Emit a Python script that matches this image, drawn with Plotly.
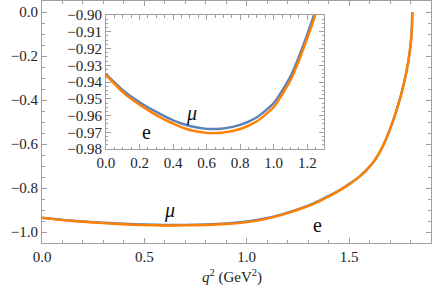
import plotly.graph_objects as go

# data
q2 = [0.0, 0.1, 0.2, 0.3, 0.4, 0.5, 0.6, 0.7, 0.8, 0.9, 1.0, 1.1, 1.2, 1.3, 1.35,
      1.4, 1.45, 1.5, 1.55, 1.58, 1.6, 1.62, 1.64, 1.66, 1.68, 1.70, 1.72, 1.74,
      1.75, 1.76, 1.77, 1.78, 1.79, 1.795, 1.80, 1.803, 1.805, 1.807, 1.8085]
ratio_mu = [-0.9353, -0.9448, -0.9520, -0.9578, -0.9628, -0.9662, -0.9679, -0.9677,
            -0.9656, -0.9610, -0.9525, -0.9365, -0.9115, -0.8805, -0.8600,
            -0.8360, -0.8110, -0.7820, -0.7480, -0.7220, -0.7020, -0.6800, -0.6520,
            -0.6180, -0.5780, -0.5320, -0.4800, -0.4210,
            -0.3890, -0.3540, -0.3150, -0.2710, -0.2200, -0.1890, -0.1520, -0.1240,
            -0.1000, -0.0620, 0.0000]
ratio_e = [-0.9357, -0.9460, -0.9536, -0.9597, -0.9648, -0.9686, -0.9703, -0.9701,
           -0.9680, -0.9634, -0.9549, -0.9389, -0.9139, -0.8829, -0.8622,
           -0.8382, -0.8130, -0.7838, -0.7496, -0.7235, -0.7034, -0.6812, -0.6530,
           -0.6188, -0.5786, -0.5325, -0.4804, -0.4213,
           -0.3892, -0.3542, -0.3151, -0.2711, -0.2200, -0.1890, -0.1520, -0.1240,
           -0.1000, -0.0620, 0.0000]

main_xticks = [0.0, 0.5, 1.0, 1.5]
main_yticks = [-1.0, -0.8, -0.6, -0.4, -0.2, 0.0]
inset_xticks = [0.0, 0.2, 0.4, 0.6, 0.8, 1.0, 1.2]
inset_yticks = [-0.98, -0.97, -0.96, -0.95, -0.94, -0.93, -0.92, -0.91, -0.90]

BLUE = "#5E81B5"
ORANGE = "#FF8000"
FRAME = "#a0a0a0"
FONT = "Liberation Serif"

fig = go.Figure()
for xa, ya in (("x", "y"), ("x2", "y2")):
    fig.add_trace(go.Scatter(x=q2, y=ratio_mu, mode="lines", xaxis=xa, yaxis=ya,
                             line=dict(color=BLUE, width=2.4, shape="spline", smoothing=0.6),
                             showlegend=False, hoverinfo="skip"))
    fig.add_trace(go.Scatter(x=q2, y=ratio_e, mode="lines", xaxis=xa, yaxis=ya,
                             line=dict(color=ORANGE, width=2.4, shape="spline", smoothing=0.6),
                             showlegend=False, hoverinfo="skip"))

axis_common = dict(showline=True, linecolor=FRAME, linewidth=1, mirror="ticks",
                   ticks="inside", tickcolor=FRAME, ticklen=5, tickwidth=1,
                   showgrid=False, zeroline=False, automargin=False,
                   tickfont=dict(family=FONT, size=15, color="#222"))

fig.update_layout(
    width=436, height=289,
    margin=dict(l=42, r=5, t=1, b=46, autoexpand=False),
    plot_bgcolor="white", paper_bgcolor="white",
    font=dict(family=FONT, size=15, color="#222"),
    xaxis=dict(range=[0, 1.9], tickvals=main_xticks, tickformat=".1f", domain=[0, 1],
               minor=dict(dtick=0.1, tick0=0, ticks="inside", ticklen=3, tickcolor=FRAME),
               **axis_common),
    yaxis=dict(range=[-1.05, 0.05], tickvals=main_yticks, tickformat=".1f", domain=[0, 1],
               minor=dict(dtick=0.05, tick0=0, ticks="inside", ticklen=3, tickcolor=FRAME),
               **axis_common),
    xaxis2=dict(range=[0, 1.3], tickvals=inset_xticks, tickformat=".1f",
                domain=[0.1645, 0.725], anchor="y2",
                minor=dict(dtick=0.05, tick0=0, ticks="inside", ticklen=2.5, tickcolor=FRAME),
                **axis_common),
    yaxis2=dict(range=[-0.98, -0.90], tickvals=inset_yticks, tickformat=".2f",
                domain=[0.388, 0.942], anchor="x2",
                minor=dict(dtick=0.0025, tick0=-0.9, ticks="inside", ticklen=2.5, tickcolor=FRAME),
                **axis_common),
)

fig.add_shape(type="rect", xref="x2 domain", yref="y2 domain", x0=0, x1=1, y0=0, y1=1,
              fillcolor="white", line=dict(width=0), layer="below")

# axis title
fig.add_annotation(x=0.488, y=-0.14, xref="paper", yref="paper", showarrow=False,
                   text="<i>q</i><sup>2</sup> (GeV<sup>2</sup>)", yanchor="middle",
                   font=dict(family=FONT, size=15, color="#222"))

labels = [
    ("x", "y", 0.623, -0.90, "<i>μ</i>"),
    ("x", "y", 1.344, -0.968, "e"),
    ("x2", "y2", 0.512, -0.9587, "<i>μ</i>"),
    ("x2", "y2", 0.243, -0.970, "e"),
]
for xr, yr, xv, yv, txt in labels:
    fig.add_annotation(x=xv, y=yv, xref=xr, yref=yr, text=txt, showarrow=False,
                       font=dict(family=FONT, size=20, color="#111"))

fig.write_html("out.html", post_script="document.body.style.margin='0';",
               config={"displayModeBar": False})
